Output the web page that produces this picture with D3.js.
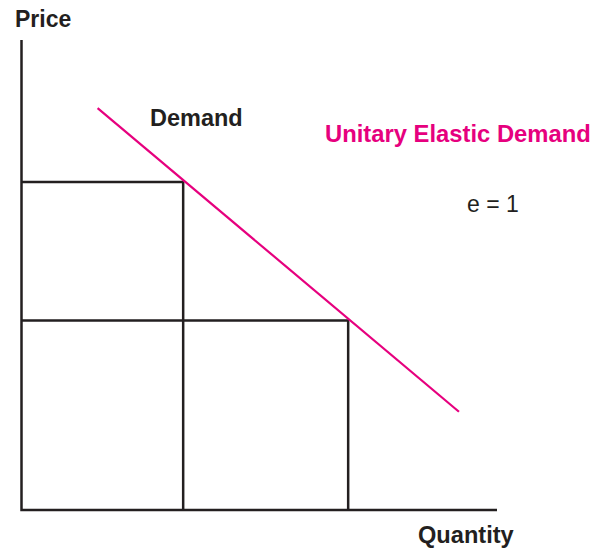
<!DOCTYPE html>
<html>
<head>
<meta charset="utf-8">
<script src="https://cdn.jsdelivr.net/npm/d3@7"></script>
<style>
  body { margin: 0; background: #fff; }
  text { font-family: "Liberation Sans", Arial, sans-serif; }
</style>
</head>
<body>
<svg></svg>
<script>
let width = 605
let height = 554

// quantity / price in chart units (0..100 on both axes)
let quantities = [34.0, 68.7]
let prices = [69.8, 40.3]
let demandQ = [16.0, 92.0]
let demandP = [85.5, 20.9]
let axisMax = 100

let xScale = d3.scaleLinear().domain([0, axisMax]).range([21.5, 497])
let yScale = d3.scaleLinear().domain([0, axisMax]).range([510, 40])

let ink = '#231f20'
let magenta = '#e6007e'

let svg = d3.select('svg')
  .attr('width', width)
  .attr('height', height)

let line = d3.line()
  .x(d => xScale(d[0]))
  .y(d => yScale(d[1]))

// boxes under the curve (price x quantity)
quantities.forEach((q, i) => {
  let p = prices[i]
  svg.append('path')
    .attr('d', line([[0, p], [q, p], [q, 0]]))
    .attr('fill', 'none')
    .attr('stroke', ink)
    .attr('stroke-width', 2.5)
})

// axes
svg.append('path')
  .attr('d', line([[0, axisMax], [0, 0], [axisMax, 0]]))
  .attr('fill', 'none')
  .attr('stroke', ink)
  .attr('stroke-width', 2.5)

// demand curve
svg.append('path')
  .attr('d', line(demandQ.map((q, i) => [q, demandP[i]])))
  .attr('fill', 'none')
  .attr('stroke', magenta)
  .attr('stroke-width', 2.2)

let labels = [
  { text: 'Price', x: 15, y: 27, size: 23, weight: 'bold', color: ink },
  { text: 'Quantity', x: 418, y: 543, size: 23.6, weight: 'bold', color: ink },
  { text: 'Demand', x: 150, y: 126, size: 23.5, weight: 'bold', color: ink },
  { text: 'Unitary Elastic Demand', x: 325, y: 142, size: 23.8, weight: 'bold', color: magenta },
  { text: 'e = 1', x: 467, y: 212, size: 23, weight: 'normal', color: ink }
]

svg.selectAll('text.label')
  .data(labels)
  .enter()
  .append('text')
  .attr('class', 'label')
  .attr('x', d => d.x)
  .attr('y', d => d.y)
  .attr('font-size', d => d.size)
  .attr('font-weight', d => d.weight)
  .attr('fill', d => d.color)
  .text(d => d.text)
</script>
</body>
</html>
